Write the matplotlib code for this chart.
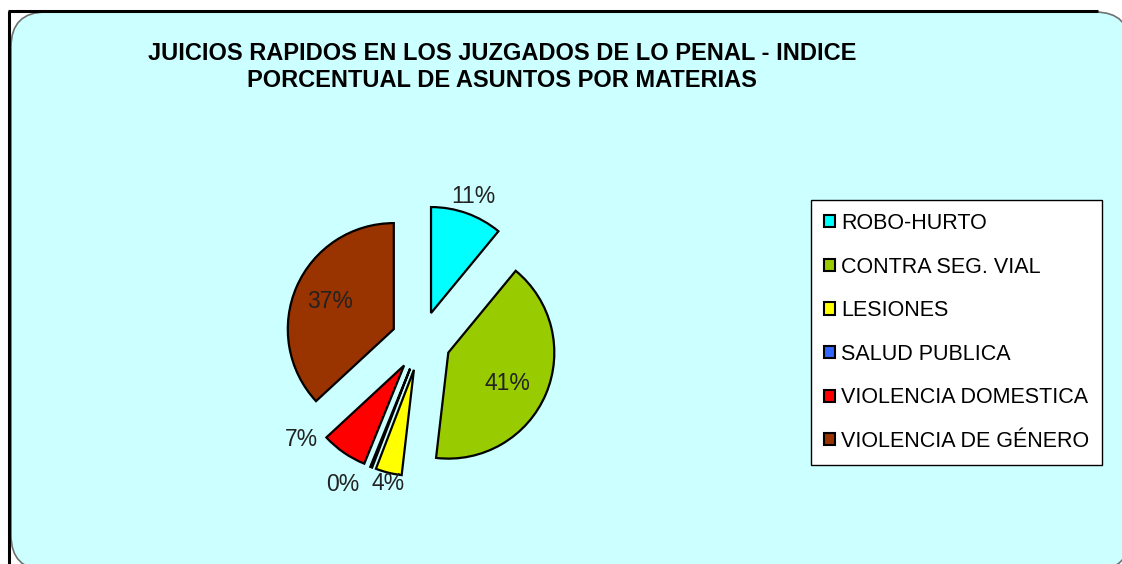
import numpy as np
import matplotlib.pyplot as plt
from matplotlib.patches import FancyBboxPatch

plt.rcParams['font.family'] = ['Liberation Sans', 'DejaVu Sans']

# datos (porcentaje de asuntos por materia)
materias = ['ROBO-HURTO', 'CONTRA SEG. VIAL', 'LESIONES', 'SALUD PUBLICA',
            'VIOLENCIA DOMESTICA', 'VIOLENCIA DE GÉNERO']
porcentajes = [11, 41, 4, 0.3, 7, 37]
colores = ['#00FFFF', '#99CC00', '#FFFF00', '#3366FF', '#FF0000', '#993300']

titulo = ('JUICIOS RAPIDOS EN LOS JUZGADOS DE LO PENAL - INDICE\n'
          'PORCENTUAL DE ASUNTOS POR MATERIAS')

# colocacion de las etiquetas (radio desde el centro, giro en grados)
lbl_radio = [1.45, 0.91, 1.38, 1.54, 1.46, 0.94]
lbl_giro = [0, 3, -1, 7, 16, 0]

W, H = 1122, 564
fig = plt.figure(figsize=(W / 100, H / 100), dpi=100)
fig.patch.set_facecolor('white')

# fondo: caja redondeada y marco negro
bg = fig.add_axes([0, 0, 1, 1])
bg.set_xlim(0, W)
bg.set_ylim(H, 0)
bg.axis('off')
caja = FancyBboxPatch((11, 12), 1119, 558, boxstyle='round,pad=0,rounding_size=35',
                      facecolor='#CCFFFF', edgecolor='#707070', lw=1.2, clip_on=False)
bg.add_patch(caja)
bg.plot([8, 1098], [11, 11], color='black', lw=2.2, solid_capstyle='butt')
bg.plot([9, 9], [11, H], color='black', lw=2.2, solid_capstyle='butt')

bg.text(502, 67, titulo, ha='center', va='center', fontsize=17,
        fontweight='bold', linespacing=1.2, color='black')

# tarta
ax = fig.add_axes([(421 - 212) / W, (H - 341 - 212) / H, 424 / W, 424 / H])
wedges, texts, autotexts = ax.pie(porcentajes, colors=colores, startangle=90,
                                  counterclock=False, explode=[0.28] * len(porcentajes),
                                  wedgeprops=dict(edgecolor='black', linewidth=1.6),
                                  autopct='%1.0f%%',
                                  textprops=dict(fontsize=16.5, color='#222222'))
ax.set_xlim(-2, 2)
ax.set_ylim(-2, 2)

for w, t, r, g in zip(wedges, autotexts, lbl_radio, lbl_giro):
    ang = np.deg2rad((w.theta1 + w.theta2) / 2 - g)
    t.set_position((r * np.cos(ang), r * np.sin(ang)))
    t.set_ha('center')
    t.set_va('center')

leg = ax.legend(wedges, materias, loc='upper left',
                bbox_to_anchor=(811 / W, 1 - 200 / H), bbox_transform=fig.transFigure,
                fontsize=15.5, handlelength=0.5, handleheight=0.5, handletextpad=0.3,
                labelspacing=1.05, borderpad=0.6, borderaxespad=0,
                fancybox=False, framealpha=1, edgecolor='black')
leg.get_frame().set_linewidth(1.0)
for h in leg.legend_handles:
    h.set_linewidth(1.5)

fig.savefig('out.png', dpi=100, facecolor='white')
